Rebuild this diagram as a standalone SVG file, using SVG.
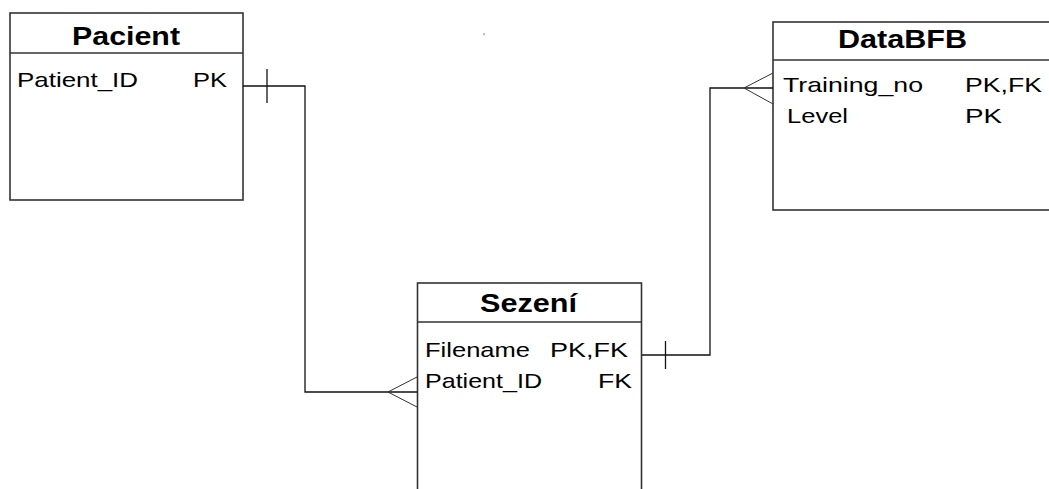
<svg xmlns="http://www.w3.org/2000/svg" width="1049" height="489" viewBox="0 0 1049 489">
<style>
.box{fill:#fff;stroke:#333;stroke-width:1.6}
.sep{stroke:#333;stroke-width:1.4}
.title{font-family:"Liberation Sans",Arial,sans-serif;font-weight:bold;font-size:25px;fill:#000}
.fld{font-family:"Liberation Sans",Arial,sans-serif;font-size:21px;fill:#000}
.con{fill:none;stroke:#111;stroke-width:1.3}
.crow{fill:none;stroke:#333;stroke-width:1}
</style>
<rect width="1049" height="489" fill="#fff"/>
<g id="Pacient">
<rect class="box" x="10" y="13" width="233" height="187"/>
<line class="sep" x1="10" y1="53" x2="243" y2="53"/>
<text class="title" x="72" y="45" textLength="108" lengthAdjust="spacingAndGlyphs">Pacient</text>
<text class="fld" x="17" y="87" textLength="121" lengthAdjust="spacingAndGlyphs">Patient_ID</text>
<text class="fld" x="193" y="87" textLength="34" lengthAdjust="spacingAndGlyphs">PK</text>
</g>
<g id="DataBFB">
<rect class="box" x="773" y="22" width="290" height="188"/>
<line class="sep" x1="773" y1="60" x2="1063" y2="60"/>
<text class="title" x="838" y="48" textLength="129" lengthAdjust="spacingAndGlyphs">DataBFB</text>
<text class="fld" x="783" y="92" textLength="140" lengthAdjust="spacingAndGlyphs">Training_no</text>
<text class="fld" x="965" y="92" textLength="77" lengthAdjust="spacingAndGlyphs">PK,FK</text>
<text class="fld" x="787" y="123" textLength="61" lengthAdjust="spacingAndGlyphs">Level</text>
<text class="fld" x="965" y="123" textLength="37" lengthAdjust="spacingAndGlyphs">PK</text>
</g>
<g id="Sezeni">
<rect class="box" x="417.5" y="283" width="224" height="220"/>
<line class="sep" x1="417.5" y1="322" x2="641.5" y2="322"/>
<text class="title" x="480" y="312" textLength="97" lengthAdjust="spacingAndGlyphs">Sezení</text>
<text class="fld" x="425" y="357" textLength="105" lengthAdjust="spacingAndGlyphs">Filename</text>
<text class="fld" x="550" y="357" textLength="78" lengthAdjust="spacingAndGlyphs">PK,FK</text>
<text class="fld" x="425" y="388" textLength="117" lengthAdjust="spacingAndGlyphs">Patient_ID</text>
<text class="fld" x="598" y="388" textLength="34" lengthAdjust="spacingAndGlyphs">FK</text>
</g>
<g id="connectors">
<polyline class="con" points="243,86 305,86 305,392 417,392"/>
<line class="con" x1="267" y1="69" x2="267" y2="103"/>
<polyline class="crow" points="417,377 388,392 417,407"/>
<polyline class="con" points="642,355 710,355 710,88 773,88"/>
<line class="con" x1="665.5" y1="341" x2="665.5" y2="369"/>
<polyline class="crow" points="773,73 744,88 773,104"/>
</g>
<rect x="483.5" y="33.5" width="1.2" height="1.2" fill="#444"/>
</svg>
